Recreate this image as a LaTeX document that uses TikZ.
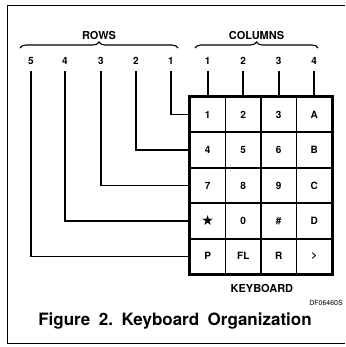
\documentclass[tikz,border=0pt]{standalone}
\usepackage{fontspec}
\setmainfont{TeX Gyre Heros}
\newfontfamily\symfont{DejaVu Sans}
\usetikzlibrary{positioning,decorations.pathreplacing}
\tikzset{
  key/.style  ={draw, line width=1.8pt, minimum width=35.5pt, minimum height=35.4pt, inner sep=0pt, font=\fontsize{10}{11}\selectfont\bfseries},
  num/.style  ={font=\fontsize{10}{11}\selectfont\bfseries, inner sep=0pt},
  ttl/.style  ={font=\fontsize{11}{13}\selectfont\bfseries, inner sep=1pt},
  wire/.style ={line width=1.6pt},
  brc/.style  ={decorate, decoration={brace, amplitude=6pt}, line width=1.1pt},
}

\begin{document}
\begin{tikzpicture}[x=1pt, y=-1pt]
  \useasboundingbox (0,0) rectangle (345,347);

  % ---- page frame ----
  \draw[line width=0.8pt] (345,5) -- (7,5) -- (7,343) -- (345,343);

  % ---- the 5x4 key matrix ----
  \foreach \lab [count=\i from 0] in {1,2,3,A,4,5,6,B,7,8,9,C,{\symfont\fontsize{14}{14}\selectfont ★},0,\#,D,P,FL,R,>} {
    \pgfmathtruncatemacro\r{int(\i/4)+1}
    \pgfmathtruncatemacro\c{mod(\i,4)+1}
    \node[key] (k\r\c) at ({190+35.5*(\c-0.5)}, {97+35.4*(\r-0.5)}) {\lab};
  }
  \draw[line width=3pt] (k11.north west) rectangle (k54.south east);

  % ---- row and column numbers ----
  \foreach \n/\x in {5/31,4/65,3/101,2/136,1/171}
    \node[num] (r\n) at (\x,61) {\n};
  \foreach \n in {1,...,4}
    \node[num] (c\n) at (k1\n |- r1) {\n};

  % ---- wires into the matrix ----
  \foreach \n in {1,...,5}
    \draw[wire] ([yshift=-6pt]r\n.south) |- (k\n1.west);
  \foreach \n in {1,...,4}
    \draw[wire] ([yshift=-6pt]c\n.south) -- (k1\n.north);

  % ---- braces ----
  \draw[brc] (20,48) -- (178,48) node[midway, above=7pt, ttl] (rows) {ROWS};
  \draw[brc] (195,48) -- (318,48) node[midway, above=7pt, ttl] (cols) {COLUMNS};

  % ---- captions ----
  \node[ttl, below=8pt of k52.south east] (kbd) {KEYBOARD};
  \node[font=\fontsize{7}{8}\selectfont, anchor=east, inner sep=0pt] (dfid) at (343,303) {DF06460S};
  \node[font=\fontsize{17}{20}\selectfont\bfseries] (cap) at (175,321) {Figure\hspace{0.5em}2.\hspace{0.5em}Keyboard\hspace{0.5em}Organization};
\end{tikzpicture}
\end{document}
